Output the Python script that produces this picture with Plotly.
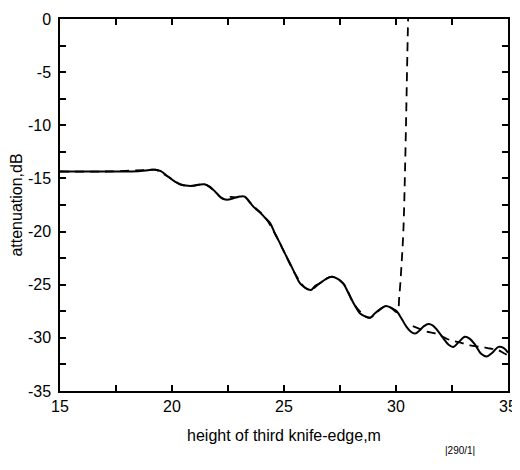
import plotly.graph_objects as go

# Solid curve (measured/computed attenuation)
solid_x = [15, 16, 17, 18, 18.6, 19.0, 19.25, 19.5, 19.8, 20.1, 20.43, 20.88, 21.2, 21.45,
           21.7, 21.95, 22.22, 22.45, 22.62, 22.85, 23.05, 23.25, 23.45, 23.65, 23.93, 24.15,
           24.38, 24.6, 24.82, 25.05, 25.27, 25.5, 25.71, 25.95, 26.2, 26.4, 26.6, 26.85,
           27.13, 27.4, 27.65, 27.9, 28.15, 28.4, 28.65, 28.85, 29.05, 29.3, 29.55, 29.8,
           30.03, 30.25, 30.45, 30.65, 30.85, 31.05, 31.25, 31.45, 31.65, 31.85, 32.1, 32.35,
           32.56, 32.8, 33.08, 33.3, 33.55, 33.8, 34.05, 34.3, 34.57, 34.8, 35.0]
solid_y = [-14.35, -14.35, -14.35, -14.35, -14.3, -14.2, -14.18, -14.32, -14.8, -15.25, -15.6,
           -15.7, -15.6, -15.55, -15.8, -16.3, -16.85, -17.0, -16.95, -16.78, -16.7, -16.72,
           -17.2, -17.7, -18.2, -18.7, -19.2, -20.2, -21.1, -22.1, -23.0, -24.0, -24.86,
           -25.3, -25.5, -25.1, -24.86, -24.5, -24.24, -24.45, -24.9, -25.9, -26.9, -27.7,
           -28.0, -28.1, -27.7, -27.3, -27.0, -27.2, -27.5, -28.2, -28.9, -29.4, -29.6,
           -29.3, -28.9, -28.7, -28.85, -29.3, -30.0, -30.65, -30.85, -30.4, -29.9, -30.1,
           -30.7, -31.5, -31.75, -31.4, -30.85, -30.95, -31.4]

# Dashed curve, first branch (diverges upward near 30 m)
dash1_x = [15, 17, 19.0, 19.25, 19.8, 20.43, 20.88, 21.45, 21.95, 22.22, 22.45, 22.6, 22.85,
           23.25, 23.6, 23.9, 24.2, 24.6, 25.05, 25.5, 25.95, 26.2, 26.6, 27.13, 27.65,
           28.15, 28.65, 28.85, 29.3, 29.55, 29.8, 30.05, 30.15, 30.25, 30.33, 30.4,
           30.46, 30.51, 30.54, 30.57]
dash1_y = [-14.35, -14.35, -14.2, -14.18, -14.8, -15.6, -15.7, -15.55, -16.3, -16.85, -16.95,
           -16.75, -16.8, -16.75, -17.55, -18.1, -18.8, -20.2, -22.1, -24.0, -25.3, -25.5,
           -24.86, -24.24, -24.9, -26.9, -28.0, -28.1, -27.3, -27.0, -27.2, -27.6, -26.0,
           -23.0, -19.9, -14.5, -8.5, -3.0, 0.0, 3.0]

# Dashed curve, second branch (after 30.7 m)
dash2_x = [30.75, 31.0, 31.37, 31.7, 32.0, 32.41, 32.8, 33.3, 33.8, 34.2, 34.5, 34.87, 35.0]
dash2_y = [-28.9, -29.1, -29.4, -29.55, -29.8, -30.2, -30.4, -30.7, -30.85, -31.0, -31.1,
           -31.5, -31.65]

x_ticks = [15, 17.5, 20, 22.5, 25, 27.5, 30, 32.5, 35]
x_labels = ["15", "", "20", "", "25", "", "30", "", "35"]
y_ticks = [0, -2.5, -5, -7.5, -10, -12.5, -15, -17.5, -20, -22.5, -25, -27.5, -30, -32.5, -35]
y_labels = ["0", "", "-5", "", "-10", "", "-15", "", "-20", "", "-25", "", "-30", "", "-35"]

FONT = "Liberation Sans, Arial, Helvetica, sans-serif"

fig = go.Figure()
dash_style = dict(color="black", width=1.8, dash="9px,6px")
fig.add_trace(go.Scatter(x=dash1_x, y=dash1_y, mode="lines", line=dash_style,
                         line_shape="spline", showlegend=False))
fig.add_trace(go.Scatter(x=dash2_x, y=dash2_y, mode="lines", line=dash_style,
                         line_shape="spline", showlegend=False))
fig.add_trace(go.Scatter(x=solid_x, y=solid_y, mode="lines",
                         line=dict(color="black", width=2), line_shape="spline",
                         showlegend=False))

axis_common = dict(
    showgrid=False, zeroline=False, showline=True, linecolor="black", linewidth=1.5,
    mirror="ticks", ticks="inside", ticklen=6, tickwidth=1.5, tickcolor="black",
    automargin=False,
    tickfont=dict(family=FONT, size=16, color="black"),
)

fig.update_xaxes(range=[15, 35], tickmode="array", tickvals=x_ticks, ticktext=x_labels,
                 title=dict(text="height of third knife-edge,m", standoff=16,
                            font=dict(family=FONT, size=16, color="black")),
                 **axis_common)
fig.update_yaxes(range=[-35, 0], tickmode="array", tickvals=y_ticks, ticktext=y_labels,
                 ticklabelstandoff=4,
                 title=dict(text="attenuation,dB", standoff=10,
                            font=dict(family=FONT, size=16, color="black")),
                 **axis_common)

fig.add_annotation(text="|290/1|", xref="paper", yref="paper", x=0.93, y=-0.18,
                   showarrow=False, font=dict(family=FONT, size=10, color="black"))

# page body has an 8px margin, so the figure is 8px smaller on each axis
fig.update_layout(
    template="none",
    width=512, height=462,
    margin=dict(l=52, r=12, t=11, b=79),
    paper_bgcolor="white", plot_bgcolor="white",
    font=dict(family=FONT, size=16, color="black"),
)

fig.write_html("out.html")
